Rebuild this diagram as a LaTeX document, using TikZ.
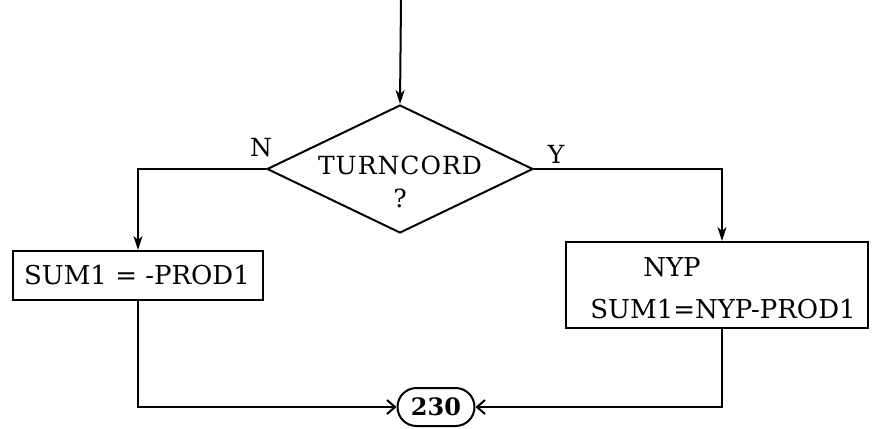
\documentclass[tikz,border=0pt]{standalone}
\usepackage{fontspec}
\setmainfont{DejaVu Serif}
\usetikzlibrary{shapes.geometric,shapes.misc,arrows.meta}
\tikzset{
  ln/.style={line width=2pt},
  varrow/.style={ln,-{Stealth[length=14pt,width=9pt,inset=4pt]}},
  harrow/.style={ln,-{Straight Barb[length=8pt,width=14pt,line width=2pt]}},
  boxshape/.style={draw,ln,rectangle,inner sep=0pt},
  txt/.style={inner sep=0pt,font=\fontsize{26}{30}\selectfont},
  dtxt/.style={inner sep=0pt,font=\addfontfeature{LetterSpace=4}\fontsize{25}{30}\selectfont},
}
\begin{document}
\begin{tikzpicture}[x=1pt,y=-1pt]
\useasboundingbox (0,0) rectangle (872,428);
\coordinate (top) at (401,0);
\node[draw,ln,diamond,inner sep=0pt,minimum width=266pt,minimum height=128pt] (dec) at (400,169) {};
\node[dtxt] (dt1) at (400,165) {TURNCORD};
\node[dtxt] (dt2) at (400,198) {?};
\node[dtxt] (nl) at (261,148) {N};
\node[dtxt] (yl) at (556,154) {Y};
\node[boxshape,minimum width=250pt,minimum height=49pt] (lbox) at (138,275.5) {};
\node[txt] (lt) at (137,275) {SUM1 = -PROD1};
\node[boxshape,minimum width=302pt,minimum height=86pt] (rbox) at (717,285) {};
\node[txt] (rt1) at (672,267) {NYP};
\node[txt] (rt2) at (723,309) {SUM1=NYP-PROD1};
\node[draw,ln,rounded rectangle,inner sep=0pt,minimum width=77pt,minimum height=38pt,font=\bfseries\fontsize{24}{28}\selectfont] (end) at (436,407) {230};
\coordinate (rc) at (722,0);
\draw[varrow] (top) -- (dec.north);
\draw[varrow] (dec.west) -| (lbox.north);
\draw[varrow] (dec.east) -| (rc |- rbox.north);
\draw[harrow] (lbox.south) |- (end.west);
\draw[harrow] (rc |- rbox.south) |- (end.east);
\end{tikzpicture}
\end{document}
